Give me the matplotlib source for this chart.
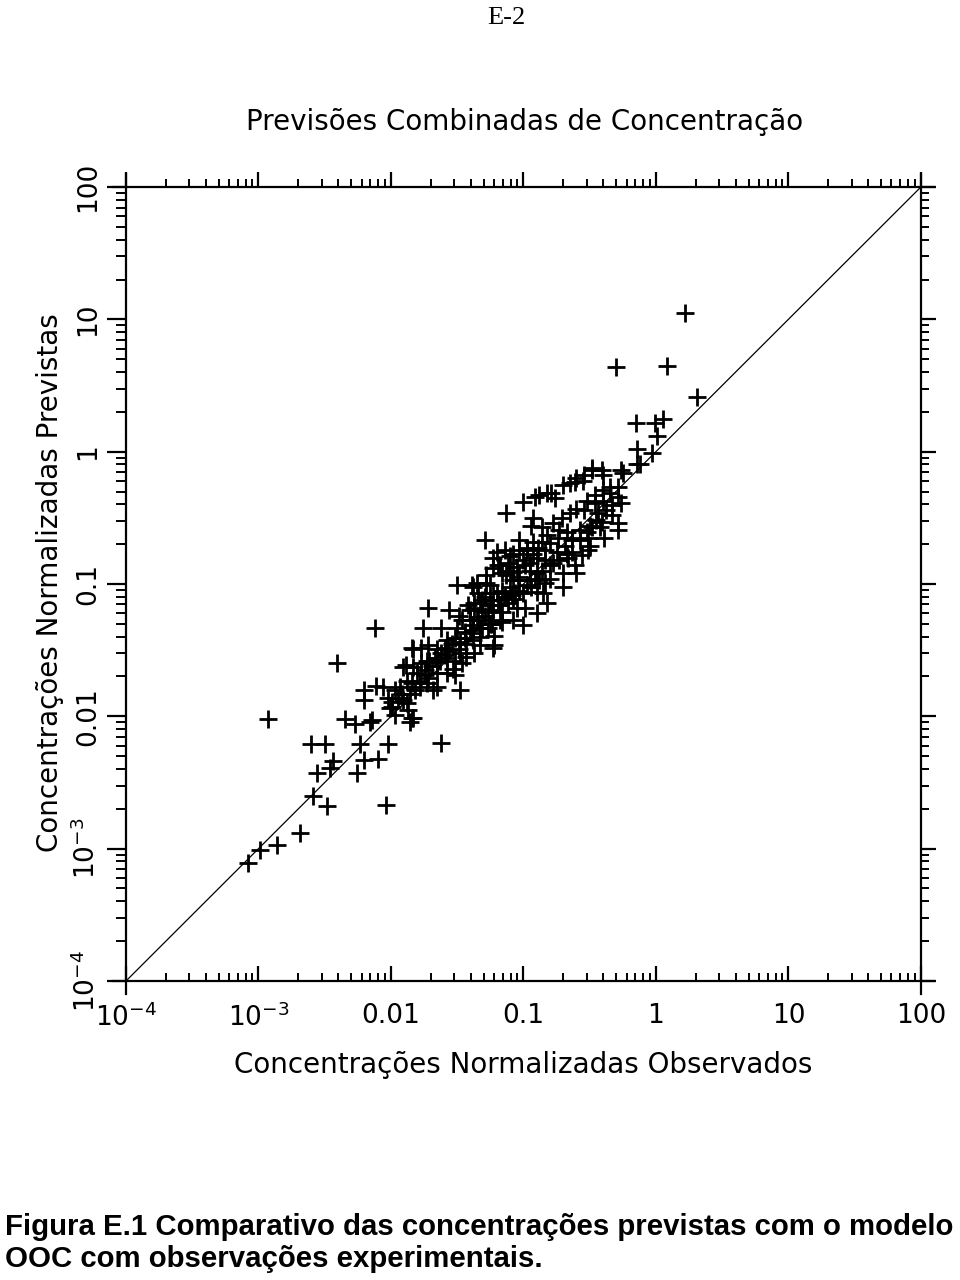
import numpy as np
import matplotlib
matplotlib.use("Agg")
import matplotlib.pyplot as plt
from matplotlib.ticker import LogLocator, NullFormatter, FixedFormatter, FixedLocator
from matplotlib.lines import Line2D

# log10 of normalised concentrations
obs_log = [
    -3.08, -2.99, -2.86, -2.69, -2.59, -2.48, -2.56, -2.46, -2.44, -2.60,
    -2.50, -2.93, -2.41, -2.12, -2.26, -2.20, -2.10, -2.04, -2.02, -2.23,
    -1.62, -2.35, -2.27, -2.16, -2.14, -2.20, -2.20, -2.11, -2.06, -2.02,
    -1.99, -2.01, -1.86, -1.48, -1.91, -1.84, -1.77, -1.97, -1.83, -1.99,
    -1.95, -1.88, -1.86, -1.93, -1.84, -1.78, -1.72, -1.65, -1.68, -1.52,
    -1.89, -1.83, -1.77, -1.71, -1.65, -1.58, -1.52, -1.46, -1.83, -1.72,
    -1.65, -1.59, -1.54, -1.48, -1.43, -1.38, -1.33, -1.22, -1.76, -1.62,
    -1.50, -1.44, -1.38, -1.31, -1.24, -1.16, -1.72, -1.56, -1.49, -1.40,
    -1.33, -1.50, -1.39, -1.28, -1.18, -1.10, -1.08, -1.20, -1.31, -1.37,
    -1.42, -1.46, -1.58, -1.63, -1.73, -1.53, -1.58, -1.65, -1.73, -1.78,
    -1.88, -1.91, -1.84, -1.23, -1.37, -1.43, -1.18, -1.27, -1.25, -1.29,
    -1.34, -1.23, -1.13, -1.00, -0.91, -0.88, -0.82, -0.79, -0.76, -0.70,
    -0.65, -0.60, -0.54, -0.48, -0.40, -0.25, -0.12, -0.61, -0.55, -0.48,
    -0.41, -0.26, 0.22, -0.30, 0.08, 0.31, -0.15, -0.01, 0.05, 0.01,
    -0.14, -0.03, -0.14, -0.35, -0.29, -0.35, -0.29, -0.26, -0.40, -0.46,
    -0.52, -0.54, -0.60, -0.65, -0.71, -0.78, -0.86, -0.93, -0.94, -0.29,
    -0.29, -0.39, -0.41, -0.48, -0.52, -0.57, -0.63, -0.67, -0.74, -0.80,
    -0.86, -0.93, -0.97, -1.03, -1.08, -1.14, -1.20, -1.23, -1.29, -0.51,
    -0.63, -0.67, -0.73, -0.78, -0.84, -0.90, -0.95, -1.00, -1.05, -1.12,
    -0.60, -0.70, -0.80, -0.84, -0.90, -0.95, -1.03, -1.08, -1.13, -1.16,
    -1.23, -1.28, -1.35, -1.38, -1.10, -1.16, -1.31, -1.37, -1.00, -0.90,
    -0.82, -0.90, -0.99, -1.05, -1.12, -1.16, -1.23, -1.35, -1.00, -1.08,
    -1.25, -1.33, -1.38, -0.56, -0.66, -0.88, -0.94, -0.85, -1.06, -0.97,
    -0.93, -0.45, -0.51,
    -1.97, -1.92, -1.80, -1.74, -1.69, -1.62, -1.56, -1.49, -1.44, -1.40,
    -1.34, -1.29, -1.24, -1.19, -1.14, -1.09, -1.03, -0.97, -0.91, -0.86,
    -0.80, -0.75, -0.69, -0.63, -0.57, -0.50, -0.44, -0.38, -0.33, -0.40,
    -0.46, -0.73, -0.84, -0.95, -1.04, -1.18, -1.27, -1.40, -1.52, -1.59,
    -1.67, -1.74, -1.82, -1.87, -0.70, -0.61, -0.50, -0.42, -0.33, -0.82,
    -0.89, -0.99, -1.08, -1.22, -1.33, -1.48, -1.03, -1.10, -1.19, -1.25,
]
pred_log = [
    -3.11, -3.01, -2.97, -2.88, -2.60, -2.68, -2.43, -2.39, -2.34, -2.21,
    -2.21, -2.02, -1.60, -1.33, -2.43, -2.33, -2.32, -2.67, -2.21, -2.21,
    -2.20, -2.02, -2.06, -2.04, -2.03, -1.88, -1.80, -1.77, -1.78, -1.86,
    -1.89, -1.94, -2.04, -1.80, -1.63, -1.48, -1.48, -1.99, -2.01, -1.93,
    -1.86, -1.90, -1.83, -1.78, -1.75, -1.73, -1.71, -1.78, -1.80, -1.69,
    -1.61, -1.63, -1.60, -1.58, -1.59, -1.56, -1.58, -1.60, -1.49, -1.46,
    -1.49, -1.48, -1.45, -1.44, -1.45, -1.42, -1.40, -1.46, -1.33, -1.33,
    -1.33, -1.36, -1.31, -1.33, -1.30, -1.29, -1.18, -1.20, -1.24, -1.20,
    -1.14, -1.01, -1.01, -0.99, -0.86, -0.90, -0.97, -1.07, -1.20, -1.18,
    -1.16, -1.27, -1.42, -1.58, -1.58, -1.64, -1.67, -1.67, -1.75, -1.78,
    -1.73, -1.88, -2.01, -1.48, -1.52, -1.55, -1.27, -1.33, -1.12, -1.10,
    -1.07, -1.07, -0.46, -0.38, -0.34, -0.33, -0.31, -0.31, -0.35, -0.25,
    -0.24, -0.20, -0.18, -0.14, -0.18, -0.16, -0.09, -0.23, -0.22, -0.12,
    -0.14, -0.14, 1.05, 0.64, 0.65, 0.41, 0.22, 0.22, 0.25, 0.12,
    0.02, -0.01, -0.09, -0.27, -0.27, -0.31, -0.34, -0.39, -0.37, -0.39,
    -0.37, -0.44, -0.43, -0.46, -0.50, -0.54, -0.57, -0.50, -0.56, -0.54,
    -0.59, -0.65, -0.53, -0.57, -0.61, -0.59, -0.65, -0.61, -0.65, -0.69,
    -0.68, -0.68, -0.73, -0.74, -0.77, -0.74, -0.76, -0.80, -0.67, -0.74,
    -0.76, -0.77, -0.82, -0.84, -0.82, -0.80, -0.84, -0.82, -0.87, -0.84,
    -0.92, -1.02, -0.96, -0.99, -0.92, -0.97, -0.95, -0.91, -0.93, -0.92,
    -0.88, -0.93, -0.99, -1.02, -1.02, -1.05, -1.12, -1.14, -1.07, -1.06,
    -1.14, -1.22, -1.18, -1.18, -1.14, -1.21, -1.20, -1.25, -1.31, -1.27,
    -1.30, -1.33, -1.35, -0.78, -0.80, -0.97, -1.02, -1.07, -1.07, -0.74,
    -0.77, -0.52, -0.65,
    -1.80, -1.83, -1.67, -1.65, -1.62, -1.52, -1.50, -1.49, -1.41, -1.37,
    -1.27, -1.24, -1.16, -1.12, -1.10, -1.08, -1.05, -1.01, -0.96, -0.90,
    -0.86, -0.76, -0.71, -0.67, -0.67, -0.56, -0.46, -0.44, -0.40, -0.29,
    -0.33, -0.59, -0.74, -0.90, -0.97, -1.16, -1.21, -1.27, -1.41, -1.54,
    -1.56, -1.69, -1.80, -1.95, -0.92, -0.86, -0.71, -0.57, -0.48, -0.63,
    -0.73, -0.86, -1.11, -1.39, -1.46, -1.52, -0.67, -0.79, -0.86, -1.01,
]
observed = 10.0 ** np.array(obs_log)
predicted = 10.0 ** np.array(pred_log)

decades = [1e-4, 1e-3, 1e-2, 1e-1, 1, 10, 100]
x_labels = [r'$10^{-4}$', r'$10^{-3}$', '0.01', '0.1', '1', '10', '100']
y_labels = [r'$10^{-4}$', r'$10^{-3}$', '0.01', '0.1', '1', '10', '100']

fig = plt.figure(figsize=(9.6, 12.8), dpi=100)
ax = fig.add_axes([0.13125, 0.2336, 0.828, 0.6203])

ax.plot(observed, predicted, linestyle='none', marker='+', markersize=12.5,
        markeredgewidth=2.0, color='black', clip_on=False, zorder=3)
ax.plot([1e-4, 100], [1e-4, 100], color='black', lw=0.9, zorder=2)

ax.set_xscale('log')
ax.set_yscale('log')
ax.set_xlim(1e-4, 100)
ax.set_ylim(1e-4, 100)

for s in ax.spines.values():
    s.set_visible(False)
# box lines slightly overrun the corners, as in the original
ext = 0.016
for xs, ys in [([-ext, 1 + ext], [0, 0]), ([-ext, 1 + ext], [1, 1]),
               ([0, 0], [-ext, 1 + ext]), ([1, 1], [-ext, 1 + ext])]:
    ax.add_line(Line2D(xs, ys, transform=ax.transAxes, color='black',
                       lw=1.6, clip_on=False))

ax.xaxis.set_major_locator(FixedLocator(decades))
ax.xaxis.set_major_formatter(FixedFormatter(x_labels))
ax.xaxis.set_minor_locator(LogLocator(base=10, subs=np.arange(2, 10), numticks=20))
ax.xaxis.set_minor_formatter(NullFormatter())
ax.yaxis.set_major_locator(FixedLocator(decades))
ax.yaxis.set_major_formatter(FixedFormatter(y_labels))
ax.yaxis.set_minor_locator(LogLocator(base=10, subs=np.arange(2, 10), numticks=20))
ax.yaxis.set_minor_formatter(NullFormatter())

ax.tick_params(axis='x', which='major', direction='in', length=11, width=1.6,
               labelsize=19, pad=16)
ax.tick_params(axis='x', which='minor', direction='in', length=6, width=1.4)
ax.tick_params(axis='y', which='major', direction='out', length=14, width=1.6,
               labelsize=19, pad=4)
ax.tick_params(axis='y', which='minor', direction='out', length=7, width=1.4)
for lab in ax.get_yticklabels():
    lab.set_rotation(90)
    lab.set_va('center')

top = ax.secondary_xaxis('top')
top.xaxis.set_major_locator(FixedLocator(decades))
top.xaxis.set_minor_locator(LogLocator(base=10, subs=np.arange(2, 10), numticks=20))
top.xaxis.set_major_formatter(NullFormatter())
top.xaxis.set_minor_formatter(NullFormatter())
top.tick_params(which='major', direction='out', length=11, width=1.6)
top.tick_params(which='minor', direction='out', length=6, width=1.4)
top.spines['top'].set_visible(False)

right = ax.secondary_yaxis('right')
right.yaxis.set_major_locator(FixedLocator(decades))
right.yaxis.set_minor_locator(LogLocator(base=10, subs=np.arange(2, 10), numticks=20))
right.yaxis.set_major_formatter(NullFormatter())
right.yaxis.set_minor_formatter(NullFormatter())
right.tick_params(which='major', direction='out', length=11, width=1.6)
right.tick_params(which='minor', direction='out', length=6, width=1.4)
right.spines['right'].set_visible(False)

fig.text(0.546, 0.9047, 'Previsões Combinadas de Concentração', ha='center',
         va='center', fontsize=20)
fig.text(0.545, 0.168, 'Concentrações Normalizadas Observados', ha='center',
         va='center', fontsize=20)
fig.text(0.052, 0.5445, 'Concentrações Normalizadas Previstas', ha='center',
         va='center', rotation=90, fontsize=20)

fig.text(0.527, 0.9945, 'E-2', ha='center', va='top', fontsize=19,
         family='Liberation Serif')
fig.text(0.005, 1 - 1227 / 1280, 'Figura E.1 Comparativo das concentrações previstas com o modelo',
         ha='left', va='center', fontsize=21.2, fontweight='bold',
         family='Liberation Sans')
fig.text(0.005, 1 - 1259 / 1280, 'OOC com observações experimentais.',
         ha='left', va='center', fontsize=21.2, fontweight='bold',
         family='Liberation Sans')

fig.savefig('out.png', dpi=100)
